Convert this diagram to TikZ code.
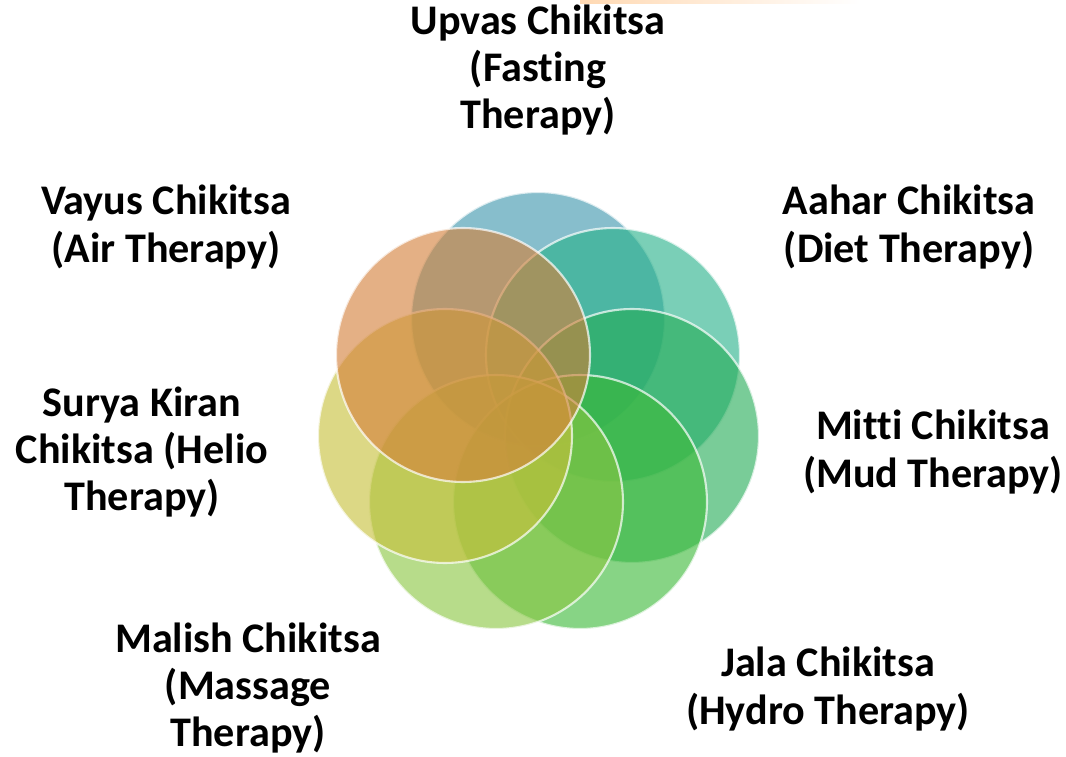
\documentclass[tikz,border=0pt]{standalone}
\usepackage{fontspec}
\setmainfont{Carlito}[RawFeature={-liga;-clig;-calt;-dlig}]
\usepackage{tikz}
\usetikzlibrary{positioning, calc}

\definecolor{fastblue}{RGB}{62,150,172}
\definecolor{dietteal}{RGB}{40,178,138}
\definecolor{mudgreen}{RGB}{38,172,88}
\definecolor{hydrogreen}{RGB}{62,186,58}
\definecolor{massagegreen}{RGB}{138,198,66}
\definecolor{helioyellow}{RGB}{198,192,58}
\definecolor{airorange}{RGB}{212,128,58}

\begin{document}
\begin{tikzpicture}[x=0.02cm, y=-0.02cm,
  disc/.style={circle, draw=white, line width=1.2pt, draw opacity=0.7,
               fill opacity=0.62, minimum size=5.08cm, inner sep=0pt},
  lbl/.style={align=center, font=\bfseries\fontsize{24}{27}\selectfont}
]
  \useasboundingbox (0,0) rectangle (1066,757);

  % faint strip at the top edge
  \shade[left color=orange!30, right color=white] (580,0) rectangle (860,4);

  % the seven discs, drawn in order
  \node[disc, fill=fastblue] (upvasdisc) at (538,319) {};
  \node[disc, fill=dietteal] (aahardisc) at (613,355) {};
  \node[disc, fill=mudgreen] (mittidisc) at (632,436) {};
  \node[disc, fill=hydrogreen] (jaladisc) at (580,502) {};
  \node[disc, fill=massagegreen] (malishdisc) at (496,502) {};
  \node[disc, fill=helioyellow] (suryadisc) at (445,436) {};
  \node[disc, fill=airorange] (vayusdisc) at (463,355) {};

  % labels
  \node[lbl] (upvas) at (538,70) {Upvas Chikitsa\\(Fasting\\Therapy)};
  \node[lbl] (aahar) at (909,227) {Aahar Chikitsa\\(Diet Therapy)};
  \node[lbl] (vayus) at (166,227) {Vayus Chikitsa\\(Air Therapy)};
  \node[lbl] (mitti) at (933,452) {Mitti Chikitsa\\(Mud Therapy)};
  \node[lbl] (surya) at (142,452) {Surya Kiran\\Chikitsa (Helio\\Therapy)};
  \node[lbl] (malish) at (248,688) {Malish Chikitsa\\(Massage\\Therapy)};
  \node[lbl] (jala) at (828,689) {Jala Chikitsa\\(Hydro Therapy)};
\end{tikzpicture}
\end{document}
